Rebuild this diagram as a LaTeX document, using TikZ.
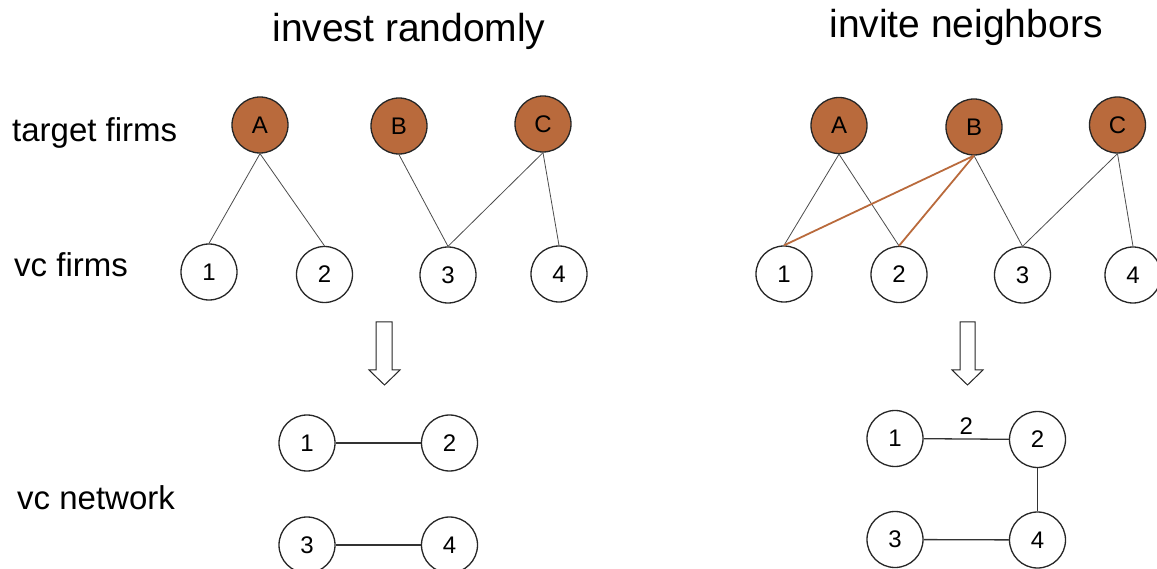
\documentclass[tikz,border=0pt]{standalone}
\usepackage{fontspec}
\setmainfont{Liberation Sans}
\definecolor{firm}{RGB}{185,106,60}
\begin{document}
\begin{tikzpicture}[x=1pt,y=-1pt,
  vc/.style={circle,draw=black!85,line width=1.3pt,minimum size=56pt,inner sep=0pt,font=\fontsize{24}{24}\selectfont,fill=white},
  tf/.style={vc,fill=firm},
  edge/.style={draw=black!70,line width=0.8pt},
  redge/.style={draw=firm,line width=1.8pt},
  nedge/.style={draw=black!80,line width=1.3pt},
  lab/.style={font=\fontsize{33}{33}\selectfont,anchor=base west,inner sep=0pt},
  ttl/.style={font=\fontsize{39}{39}\selectfont,anchor=base,inner sep=0pt},
  hollow/.style={draw=black!85,line width=1pt,fill=white,line join=miter}]
\useasboundingbox (0,0) rectangle (1157,569);

% titles and row labels
\node[ttl] (t1) at (409,42) {invest randomly};
\node[ttl] (t2) at (966,38) {invite neighbors};
\node[lab] (l1) at (12,141.7) {target firms};
\node[lab] (l2) at (14,276.7) {vc firms};
\node[lab,font=\fontsize{33}{33}\selectfont] (l3) at (17,509) {vc network};

% left panel: bipartite
\node[tf] (LA) at (260,125) {A};
\node[tf] (LB) at (399,126) {B};
\node[tf] (LC) at (543,124) {C};
\node[vc] (L1) at (209,272) {1};
\node[vc] (L2) at (324.5,274.5) {2};
\node[vc] (L3) at (448,275) {3};
\node[vc] (L4) at (559,274) {4};
\draw[edge] (LA.south) -- (L1.north);
\draw[edge] (LA.south) -- (L2.north);
\draw[edge] (LB.south) -- (L3.north);
\draw[edge] (LC.south) -- (L3.north);
\draw[edge] (LC.south) -- (L4.north);

% right panel: bipartite
\node[tf] (RA) at (839,125.5) {A};
\node[tf] (RB) at (974,127) {B};
\node[tf] (RC) at (1117.5,125) {C};
\node[vc] (R1) at (784,274) {1};
\node[vc] (R2) at (899,274.5) {2};
\node[vc] (R3) at (1022.5,275) {3};
\node[vc] (R4) at (1133,275) {4};
\draw[edge] (RA.south) -- (R1.north);
\draw[edge] (RA.south) -- (R2.north);
\draw[edge] (RB.south) -- (R3.north);
\draw[edge] (RC.south) -- (R3.north);
\draw[edge] (RC.south) -- (R4.north);
\draw[redge] (RB.south) -- (R1.north);
\draw[redge] (RB.south) -- (R2.north);

% hollow arrows
\draw[hollow] (376,322) -- (392,322) -- (392,370) -- (400,370) -- (384.5,385)
  -- (369,370) -- (376,370) -- cycle;
\draw[hollow] (960,322) -- (975,322) -- (975,370) -- (983,370) -- (967.5,385)
  -- (952,370) -- (960,370) -- cycle;

% left network
\node[vc] (N1) at (307,443) {1};
\node[vc] (N2) at (449.5,443) {2};
\node[vc] (N3) at (307,545) {3};
\node[vc] (N4) at (449.5,545) {4};
\draw[nedge] (N1) -- (N2);
\draw[nedge] (N3) -- (N4);

% right network
\node[vc] (M1) at (895,438.5) {1};
\node[vc] (M2) at (1037.5,439.5) {2};
\node[vc] (M3) at (895,539.5) {3};
\node[vc] (M4) at (1037.5,540) {4};
\draw[nedge] (M1) -- node[above=1pt,font=\fontsize{24}{24}\selectfont] {2} (M2);
\draw[nedge] (M2) -- (M4);
\draw[nedge] (M3) -- (M4);
\end{tikzpicture}
\end{document}
